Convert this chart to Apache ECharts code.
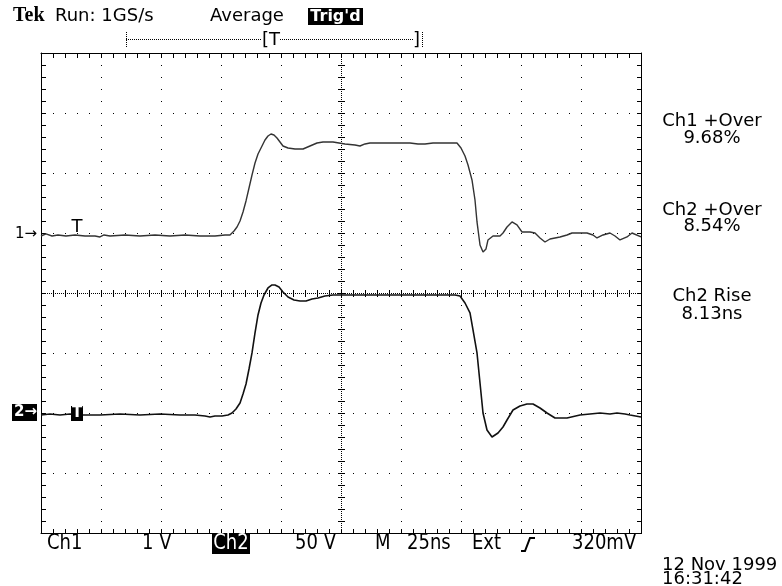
<!DOCTYPE html>
<html><head><meta charset="utf-8">
<script src="https://cdn.jsdelivr.net/npm/echarts@6/dist/echarts.min.js"></script>
<style>html,body{margin:0;padding:0;background:#fff}#c{width:782px;height:586px}</style>
</head><body><div id="c"></div><script>
// Channel 1 (1 V/div) : time in ns, amplitude in volts relative to its ground marker
const ch1Time = [-125,-122.92,-120.42,-117.92,-114.58,-110.83,-106.67,-102.5,-100.42,-98.75,-96.25,-90,-83.75,-77.5,-71.25,-65,-58.75,-52.5,-48.33,-46.25,-44.58,-43.33,-42.08,-40.83,-39.58,-38.33,-37.08,-35.83,-34.58,-33.33,-31.67,-30.42,-29.17,-27.92,-26.67,-25.42,-24.17,-22.08,-19.17,-15.83,-12.92,-10,-7.5,-3.33,1.67,5.83,7.92,10,12.08,18.33,24.58,28.75,32.08,35,38.33,43.33,48.33,50,51.67,52.92,54.58,55.83,56.67,57.92,59.17,60.42,61.25,63.33,66.25,67.5,69.17,71.25,73.33,75.42,78.75,80.83,82.92,85,87.08,91.25,94.17,96.25,99.58,102.5,105,106.67,109.17,112.08,114.17,116.25,119.17,121.25,125];
const ch1Volts = [-0.017,0.017,-0.017,0,-0.017,0,-0.017,-0.017,-0.033,0,-0.017,0,-0.017,0,-0.017,0,-0.017,-0.017,0,0,0.067,0.133,0.233,0.383,0.567,0.783,1.0,1.2,1.35,1.45,1.583,1.65,1.683,1.667,1.617,1.55,1.483,1.45,1.433,1.433,1.483,1.533,1.55,1.55,1.517,1.5,1.483,1.517,1.533,1.533,1.533,1.533,1.517,1.517,1.533,1.533,1.533,1.45,1.317,1.167,0.917,0.583,0.217,-0.167,-0.283,-0.233,-0.083,-0.017,-0.017,0.033,0.133,0.217,0.167,0.05,0.05,0.033,-0.05,-0.117,-0.067,-0.033,0,0.033,0.033,0.033,0,-0.05,0,0.033,-0.017,-0.083,-0.033,0.033,-0.033];
// Channel 2 (50 V/div)
const ch2Time = [-125,-121.25,-117.08,-112.92,-108.75,-104.58,-100.42,-92.08,-83.75,-75.42,-67.08,-60.83,-56.67,-54.58,-52.5,-49.58,-47.08,-45.42,-43.75,-42.08,-40.83,-39.58,-38.33,-37.08,-35.83,-34.58,-33.33,-32.08,-30.42,-28.75,-27.5,-25.83,-24.17,-22.08,-19.58,-17.08,-14.58,-12.08,-9.58,-6.67,-3.33,1.67,7.92,16.25,24.58,32.92,41.25,47.5,49.58,51.67,53.75,55,56.67,57.92,59.17,60.83,62.92,65.42,67.5,69.17,71.67,74.58,77.5,80,82.92,85.83,89.17,94.17,99.58,103.75,107.92,112.08,115,118.33,120.42,125];
const ch2Volts = [0,0.83,0,0.83,0,0,0,0.83,0,0.83,0,0,-0.83,-1.67,-0.83,-0.83,0,1.67,5,10,17.5,25.83,38.33,51.67,68.33,83.33,93.33,100,105.83,108.33,108.33,106.67,102.5,98.33,95.83,95,95,96.67,97.5,99.17,100,100,100,100,100,100,100,100,99.17,93.33,85,70.83,51.67,26.67,1.67,-12.5,-18.33,-15,-10,-4.17,4.17,7.5,9.17,9.17,5.83,1.67,-2.5,-2.5,0,0.83,1.67,0.83,1.67,0.83,0,-1.67];

const ch1VoltsPerDiv = 1, ch2VoltsPerDiv = 50;
const ch1GroundDiv = 0.967, ch2GroundDiv = -2.033;

// screen: 10 horizontal divisions of 25 ns, 8 vertical divisions, 5 minor steps each
const xMin = -125, xMax = 125, xStep = 25, xMinor = 5;
const yMin = -4, yMax = 4, yStep = 1, yMinor = 0.2;

const headerTexts = ['Run: 1GS/s', 'Average', "Trig'd"];
const measureNames = ['Ch1 +Over', 'Ch2 +Over', 'Ch2 Rise'];
const measureValues = ['9.68%', '8.54%', '8.13ns'];
const footerTexts = ['Ch1', '1 V', 'Ch2', '50 V', 'M', '25ns', 'Ext', '320mV'];
const dateTexts = ['12 Nov 1999', '16:31:42'];

const F = '"DejaVu Sans", sans-serif';
function txt(text, x, y, opt) {
  opt = opt || {};
  return { type: 'text', z: 10, x: x, y: y, scaleY: opt.scaleY || 1,
    style: { text: text, x: 0, y: 0, fill: opt.fill || '#000',
      font: opt.font || ('18px ' + F), align: opt.align || 'left', verticalAlign: 'middle' } };
}
const tall = { scaleY: 1.15 };
function frameAxis(pos, isX) {
  return {
    type: 'value', position: pos, min: isX ? xMin : yMin, max: isX ? xMax : yMax, interval: isX ? xStep : yStep,
    axisLine: { show: true, onZero: false, lineStyle: { color: '#000', width: 1 } },
    axisTick: { show: false }, minorTick: { show: false },
    axisLabel: { show: false }, splitLine: { show: false }, minorSplitLine: { show: false }
  };
}

// graticule: dotted division lines, frame ticks and the centre cross, placed through the axes
function renderGraticule(params, api) {
  const ch = [];
  const P = (t, v) => api.coord([t, v]);
  const box = (x, y, w, h) => ch.push({ type: 'rect', shape: { x: x, y: y, width: w, height: h }, style: { fill: '#000' } });
  const left = Math.round(P(xMin, 0)[0]), right = Math.round(P(xMax, 0)[0]);
  const top = Math.round(P(0, yMax)[1]), bottom = Math.round(P(0, yMin)[1]);
  const cx = Math.round(P(0, 0)[0]), cy = Math.round(P(0, 0)[1]);
  const nxMinor = Math.round((xMax - xMin) / xMinor), nyMinor = Math.round((yMax - yMin) / yMinor);
  const nxMajor = Math.round((xMax - xMin) / xStep), nyMajor = Math.round((yMax - yMin) / yStep);
  const majorY = [], majorX = [];
  for (let j = 1; j < nyMajor; j++) majorY.push(Math.round(P(0, yMin + j * yStep)[1]));
  for (let i = 1; i < nxMajor; i++) majorX.push(Math.round(P(xMin + i * xStep, 0)[0]));
  for (let i = 0; i <= nxMinor; i++) {
    const px = Math.round(P(xMin + i * xMinor, 0)[0]);
    box(px, top, 1, 5); box(px, bottom - 4, 1, 5);
    box(px, cy - 3, 1, 7);
    majorY.forEach(py => { if (py !== cy) box(px, py, 1, 1); });
  }
  for (let j = 0; j <= nyMinor; j++) {
    const py = Math.round(P(0, yMin + j * yMinor)[1]);
    box(left, py, 5, 1); box(right - 4, py, 5, 1);
    box(cx - 3, py, 7, 1);
    majorX.forEach(px => { if (px !== cx) box(px, py, 1, 1); });
  }
  ch.push({ type: 'line', shape: { x1: left, y1: cy + 0.5, x2: right, y2: cy + 0.5 }, style: { stroke: '#000', lineWidth: 1, lineDash: [1, 1] } });
  ch.push({ type: 'line', shape: { x1: cx + 0.5, y1: top, x2: cx + 0.5, y2: bottom }, style: { stroke: '#000', lineWidth: 1, lineDash: [1, 1] } });
  return { type: 'group', children: ch };
}

const ch1Data = ch1Time.map((t, i) => [t, ch1Volts[i] / ch1VoltsPerDiv + ch1GroundDiv]);
const ch2Data = ch2Time.map((t, i) => [t, ch2Volts[i] / ch2VoltsPerDiv + ch2GroundDiv]);

const graphics = [
  txt('Tek', 13, 16, { font: 'bold 20px "Liberation Serif", serif' }),
  txt(headerTexts[0], 55, 16),
  txt(headerTexts[1], 210, 16),
  { type: 'rect', z: 9, shape: { x: 308, y: 8, width: 55, height: 17 }, style: { fill: '#000' } },
  txt(headerTexts[2], 335.5, 16.5, { fill: '#fff', align: 'center', font: 'bold 16px ' + F }),
  { type: 'line', z: 9, shape: { x1: 126, y1: 39.5, x2: 422, y2: 39.5 }, style: { stroke: '#000', lineWidth: 1, lineDash: [1, 1] } },
  { type: 'line', z: 9, shape: { x1: 126.5, y1: 32, x2: 126.5, y2: 48 }, style: { stroke: '#000', lineWidth: 1, lineDash: [1, 1] } },
  { type: 'line', z: 9, shape: { x1: 422.5, y1: 32, x2: 422.5, y2: 48 }, style: { stroke: '#000', lineWidth: 1, lineDash: [1, 1] } },
  { type: 'rect', z: 9, shape: { x: 262, y: 32, width: 17, height: 16 }, style: { fill: '#fff' } },
  txt('[T', 262, 40),
  { type: 'rect', z: 9, shape: { x: 413, y: 32, width: 8, height: 16 }, style: { fill: '#fff' } },
  txt(']', 413, 40),
  // right-hand measurements
  txt(measureNames[0], 712, 121.5, { align: 'center' }),
  txt(measureValues[0], 712, 138.5, { align: 'center' }),
  txt(measureNames[1], 712, 210, { align: 'center' }),
  txt(measureValues[1], 712, 226.5, { align: 'center' }),
  txt(measureNames[2], 712, 296.5, { align: 'center' }),
  txt(measureValues[2], 712, 314, { align: 'center' }),
  // channel markers
  txt('1→', 15, 234, { font: '15px ' + F }),
  { type: 'rect', z: 9, shape: { x: 12, y: 404, width: 25, height: 17 }, style: { fill: '#000' } },
  txt('2→', 14, 412.5, { fill: '#fff', font: 'bold 15px ' + F }),
  txt('T', 77, 227, { align: 'center' }),
  { type: 'rect', z: 9, shape: { x: 71, y: 406, width: 12, height: 15 }, style: { fill: '#000' } },
  txt('T', 77, 413.5, { fill: '#fff', align: 'center', font: 'bold 15px ' + F }),
  // footer
  txt(footerTexts[0], 47, 544, tall),
  txt(footerTexts[1], 142, 544, tall),
  { type: 'rect', z: 9, shape: { x: 212, y: 534, width: 38, height: 20 }, style: { fill: '#000' } },
  txt(footerTexts[2], 231, 544, { fill: '#fff', align: 'center', scaleY: 1.15 }),
  txt(footerTexts[3], 295, 544, tall),
  txt(footerTexts[4], 375, 544, tall),
  txt(footerTexts[5], 407, 544, tall),
  txt(footerTexts[6], 472, 544, tall),
  { type: 'polyline', z: 10, shape: { points: [[521, 551], [525, 551], [530, 538], [535, 538]] }, style: { stroke: '#000', lineWidth: 2, fill: null } },
  txt(footerTexts[7], 572, 544, tall),
  txt(dateTexts[0], 662, 565),
  txt(dateTexts[1], 662, 579)
];

const chart = echarts.init(document.getElementById('c'), null, { renderer: 'canvas' });
chart.setOption({
  animation: false,
  backgroundColor: '#fff',
  tooltip: { show: false },
  grid: { left: 41, top: 53, width: 600, height: 480, containLabel: false },
  xAxis: [frameAxis('bottom', true), frameAxis('top', true)],
  yAxis: [frameAxis('left', false), frameAxis('right', false)],
  series: [
    { name: 'graticule', type: 'custom', coordinateSystem: 'cartesian2d', xAxisIndex: 0, yAxisIndex: 0,
      data: [[0, 0]], renderItem: renderGraticule, silent: true, clip: false, z: 1 },
    { name: 'Ch1', type: 'line', xAxisIndex: 0, yAxisIndex: 0, data: ch1Data, showSymbol: false, symbol: 'none',
      lineStyle: { color: '#333', width: 1.4 }, z: 5 },
    { name: 'Ch2', type: 'line', xAxisIndex: 0, yAxisIndex: 0, data: ch2Data, showSymbol: false, symbol: 'none',
      lineStyle: { color: '#111', width: 1.6 }, z: 5 }
  ],
  graphic: graphics
});
</script></body></html>
